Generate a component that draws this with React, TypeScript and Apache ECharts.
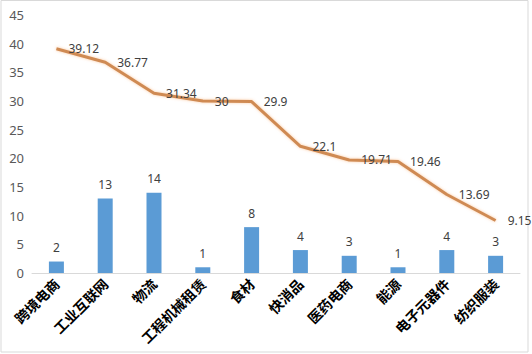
import React, { useEffect, useRef } from "react";
import * as echarts from "echarts";

const categories = ["跨境电商", "工业互联网", "物流", "工程机械租赁", "食材", "快消品", "医药电商", "能源", "电子元器件", "纺织服装"];
const barValues = [2, 13, 14, 1, 8, 4, 3, 1, 4, 3];
const lineValues = [39.12, 36.77, 31.34, 30, 29.9, 22.1, 19.71, 19.46, 13.69, 9.15];
const yTicks = { min: 0, max: 45, interval: 5 };

export default function App() {
  const ref = useRef<HTMLDivElement>(null);
  useEffect(() => {
    const chart = echarts.init(ref.current!, null, { renderer: "svg" });
    chart.setOption({
      animation: false,
      backgroundColor: "#ffffff",
      grid: { left: 32, right: 12, top: 15, bottom: 81, containLabel: false },
      graphic: [
        {
          type: "rect",
          shape: { x: 1, y: 0.5, width: 527, height: 351.5 },
          style: { fill: "none", stroke: "#d9d9d9", lineWidth: 1 },
          silent: true,
          z: -1,
        },
      ],
      xAxis: {
        type: "category",
        data: categories,
        axisLine: { show: true, lineStyle: { color: "#d9d9d9", width: 1 } },
        axisTick: { show: false },
        axisLabel: {
          rotate: 45,
          interval: 0,
          margin: 8,
          color: "#000000",
          fontWeight: "bold",
          fontSize: 14,
          fontFamily: "Noto Sans CJK SC",
        },
      },
      yAxis: {
        type: "value",
        min: yTicks.min,
        max: yTicks.max,
        interval: yTicks.interval,
        axisLine: { show: false },
        axisTick: { show: false },
        splitLine: { show: false },
        axisLabel: { color: "#595959", fontSize: 13, margin: 8, fontFamily: "Noto Sans" },
      },
      series: [
        {
          type: "bar",
          data: barValues,
          barWidth: 15,
          itemStyle: { color: "#5B9BD5" },
          label: {
            show: true,
            position: "top",
            distance: 8,
            color: "#404040",
            fontSize: 12,
            fontFamily: "Noto Sans",
          },
        },
        {
          type: "line",
          data: lineValues,
          symbol: "circle",
          symbolSize: 0.1,
          itemStyle: { color: "#CF8A52" },
          lineStyle: {
            color: "#CF8A52",
            width: 3,
            shadowColor: "rgba(250,190,140,0.8)",
            shadowBlur: 3,
          },
          label: {
            show: true,
            position: "right",
            distance: 12,
            color: "#404040",
            fontSize: 12,
            fontFamily: "Noto Sans",
          },
        },
      ],
    });
    return () => chart.dispose();
  }, []);
  return <div ref={ref} style={{ position: "fixed", left: 0, top: 0, width: 532, height: 354 }} />;
}
